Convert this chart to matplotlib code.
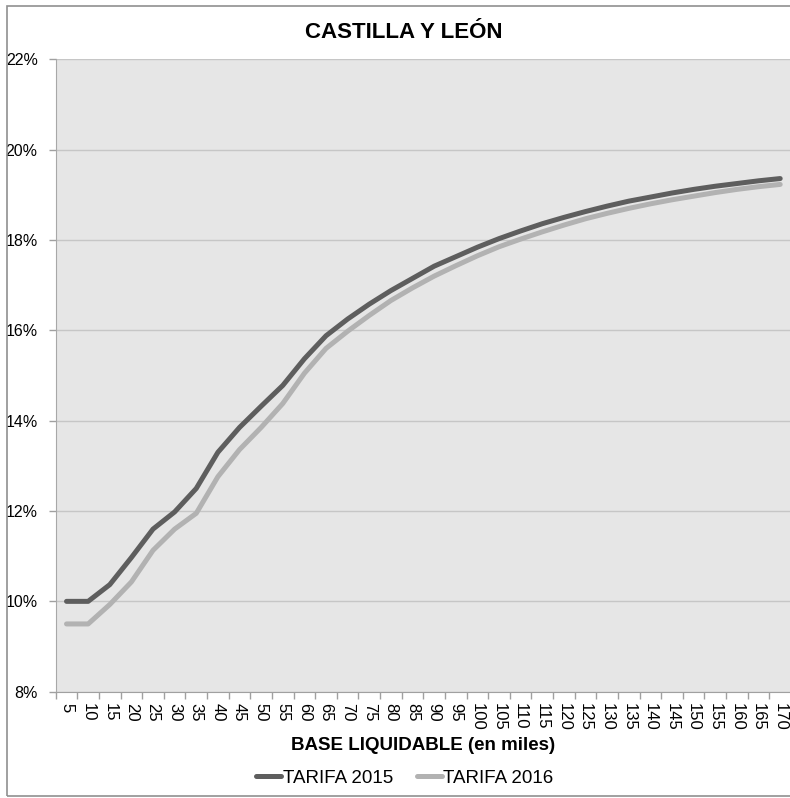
import numpy as np
import matplotlib
matplotlib.use("Agg")
import matplotlib.pyplot as plt
from matplotlib.patches import Rectangle

plt.rcParams['font.family'] = ['Liberation Sans', 'DejaVu Sans']

# base liquidable (miles de euros)
bases = [str(b) for b in range(5, 175, 5)]

# tipo medio efectivo (%)
tarifa_2015 = [10.0, 10.0, 10.37, 10.97, 11.6, 11.98, 12.5, 13.3, 13.85, 14.32,
               14.78, 15.37, 15.88, 16.25, 16.58, 16.88, 17.15, 17.42, 17.63, 17.84,
               18.03, 18.2, 18.36, 18.5, 18.63, 18.75, 18.86, 18.95, 19.04, 19.12,
               19.19, 19.25, 19.31, 19.36]
tarifa_2016 = [9.5, 9.5, 9.93, 10.43, 11.13, 11.6, 11.95, 12.76, 13.36, 13.85,
               14.38, 15.05, 15.6, 15.98, 16.33, 16.66, 16.94, 17.2, 17.43, 17.65,
               17.85, 18.02, 18.18, 18.33, 18.47, 18.59, 18.7, 18.8, 18.89, 18.97,
               19.05, 19.12, 19.18, 19.23]

y_ticks = [8, 10, 12, 14, 16, 18, 20, 22]

W, H = 790, 798
fig = plt.figure(figsize=(W / 100, H / 100), dpi=100)
fig.patch.set_facecolor('white')

# plot area in pixel coords
left, right, top, bottom = 55.7, 791.0, 59.3, 691.7
ax = fig.add_axes([left / W, 1 - bottom / H, (right - left) / W, (bottom - top) / H])
ax.set_facecolor('#e6e6e6')

x = np.arange(len(bases))
ax.plot(x, tarifa_2015, color='#5e5e5e', lw=3.6, solid_capstyle='round', label='TARIFA 2015', zorder=3)
ax.plot(x, tarifa_2016, color='#b2b2b2', lw=3.6, solid_capstyle='round', label='TARIFA 2016', zorder=2)

ax.set_xlim(-0.5, len(bases) - 0.5)
ax.set_ylim(8, 22)
ax.set_yticks(y_ticks)
ax.set_yticklabels([f'{v}%' for v in y_ticks], fontsize=11.5)
ax.yaxis.grid(True, color='#c6c6c6', lw=1.0)
ax.set_axisbelow(True)

# category ticks between categories, labels at centres
ax.set_xticks(np.arange(len(bases) + 1) - 0.5)
ax.set_xticklabels([])
ax.set_xticks(x, minor=True)
ax.set_xticklabels(bases, minor=True, rotation=-90, fontsize=12)
ax.tick_params(axis='x', which='major', length=5, color='#a0a0a0', width=1)
ax.tick_params(axis='x', which='minor', length=0, pad=8)
ax.tick_params(axis='y', length=5, color='#a0a0a0', width=1, pad=8)

for s in ['top', 'right']:
    ax.spines[s].set_visible(False)
ax.spines['left'].set_color('#a8a8a8')
ax.spines['bottom'].set_color('#a0a0a0')

fig.text(404 / W, 1 - 32 / H, 'CASTILLA Y LEÓN', ha='center', va='center',
         fontsize=16, fontweight='bold')
fig.text(423 / W, 1 - 746 / H, 'BASE LIQUIDABLE (en miles)', ha='center', va='center',
         fontsize=13.5, fontweight='bold')

fig.legend(loc='center', bbox_to_anchor=(405 / W, 1 - 778 / H), ncol=2, frameon=False,
           fontsize=13.5, handlelength=1.3, handletextpad=0.1, columnspacing=1.3)

# outer chart frame
fig.patches.append(Rectangle((7 / W, 1 - 796 / H), 1, (796 - 6) / H, transform=fig.transFigure,
                             fill=False, edgecolor='#909090', lw=1.2))

fig.savefig('out.png', dpi=100)
